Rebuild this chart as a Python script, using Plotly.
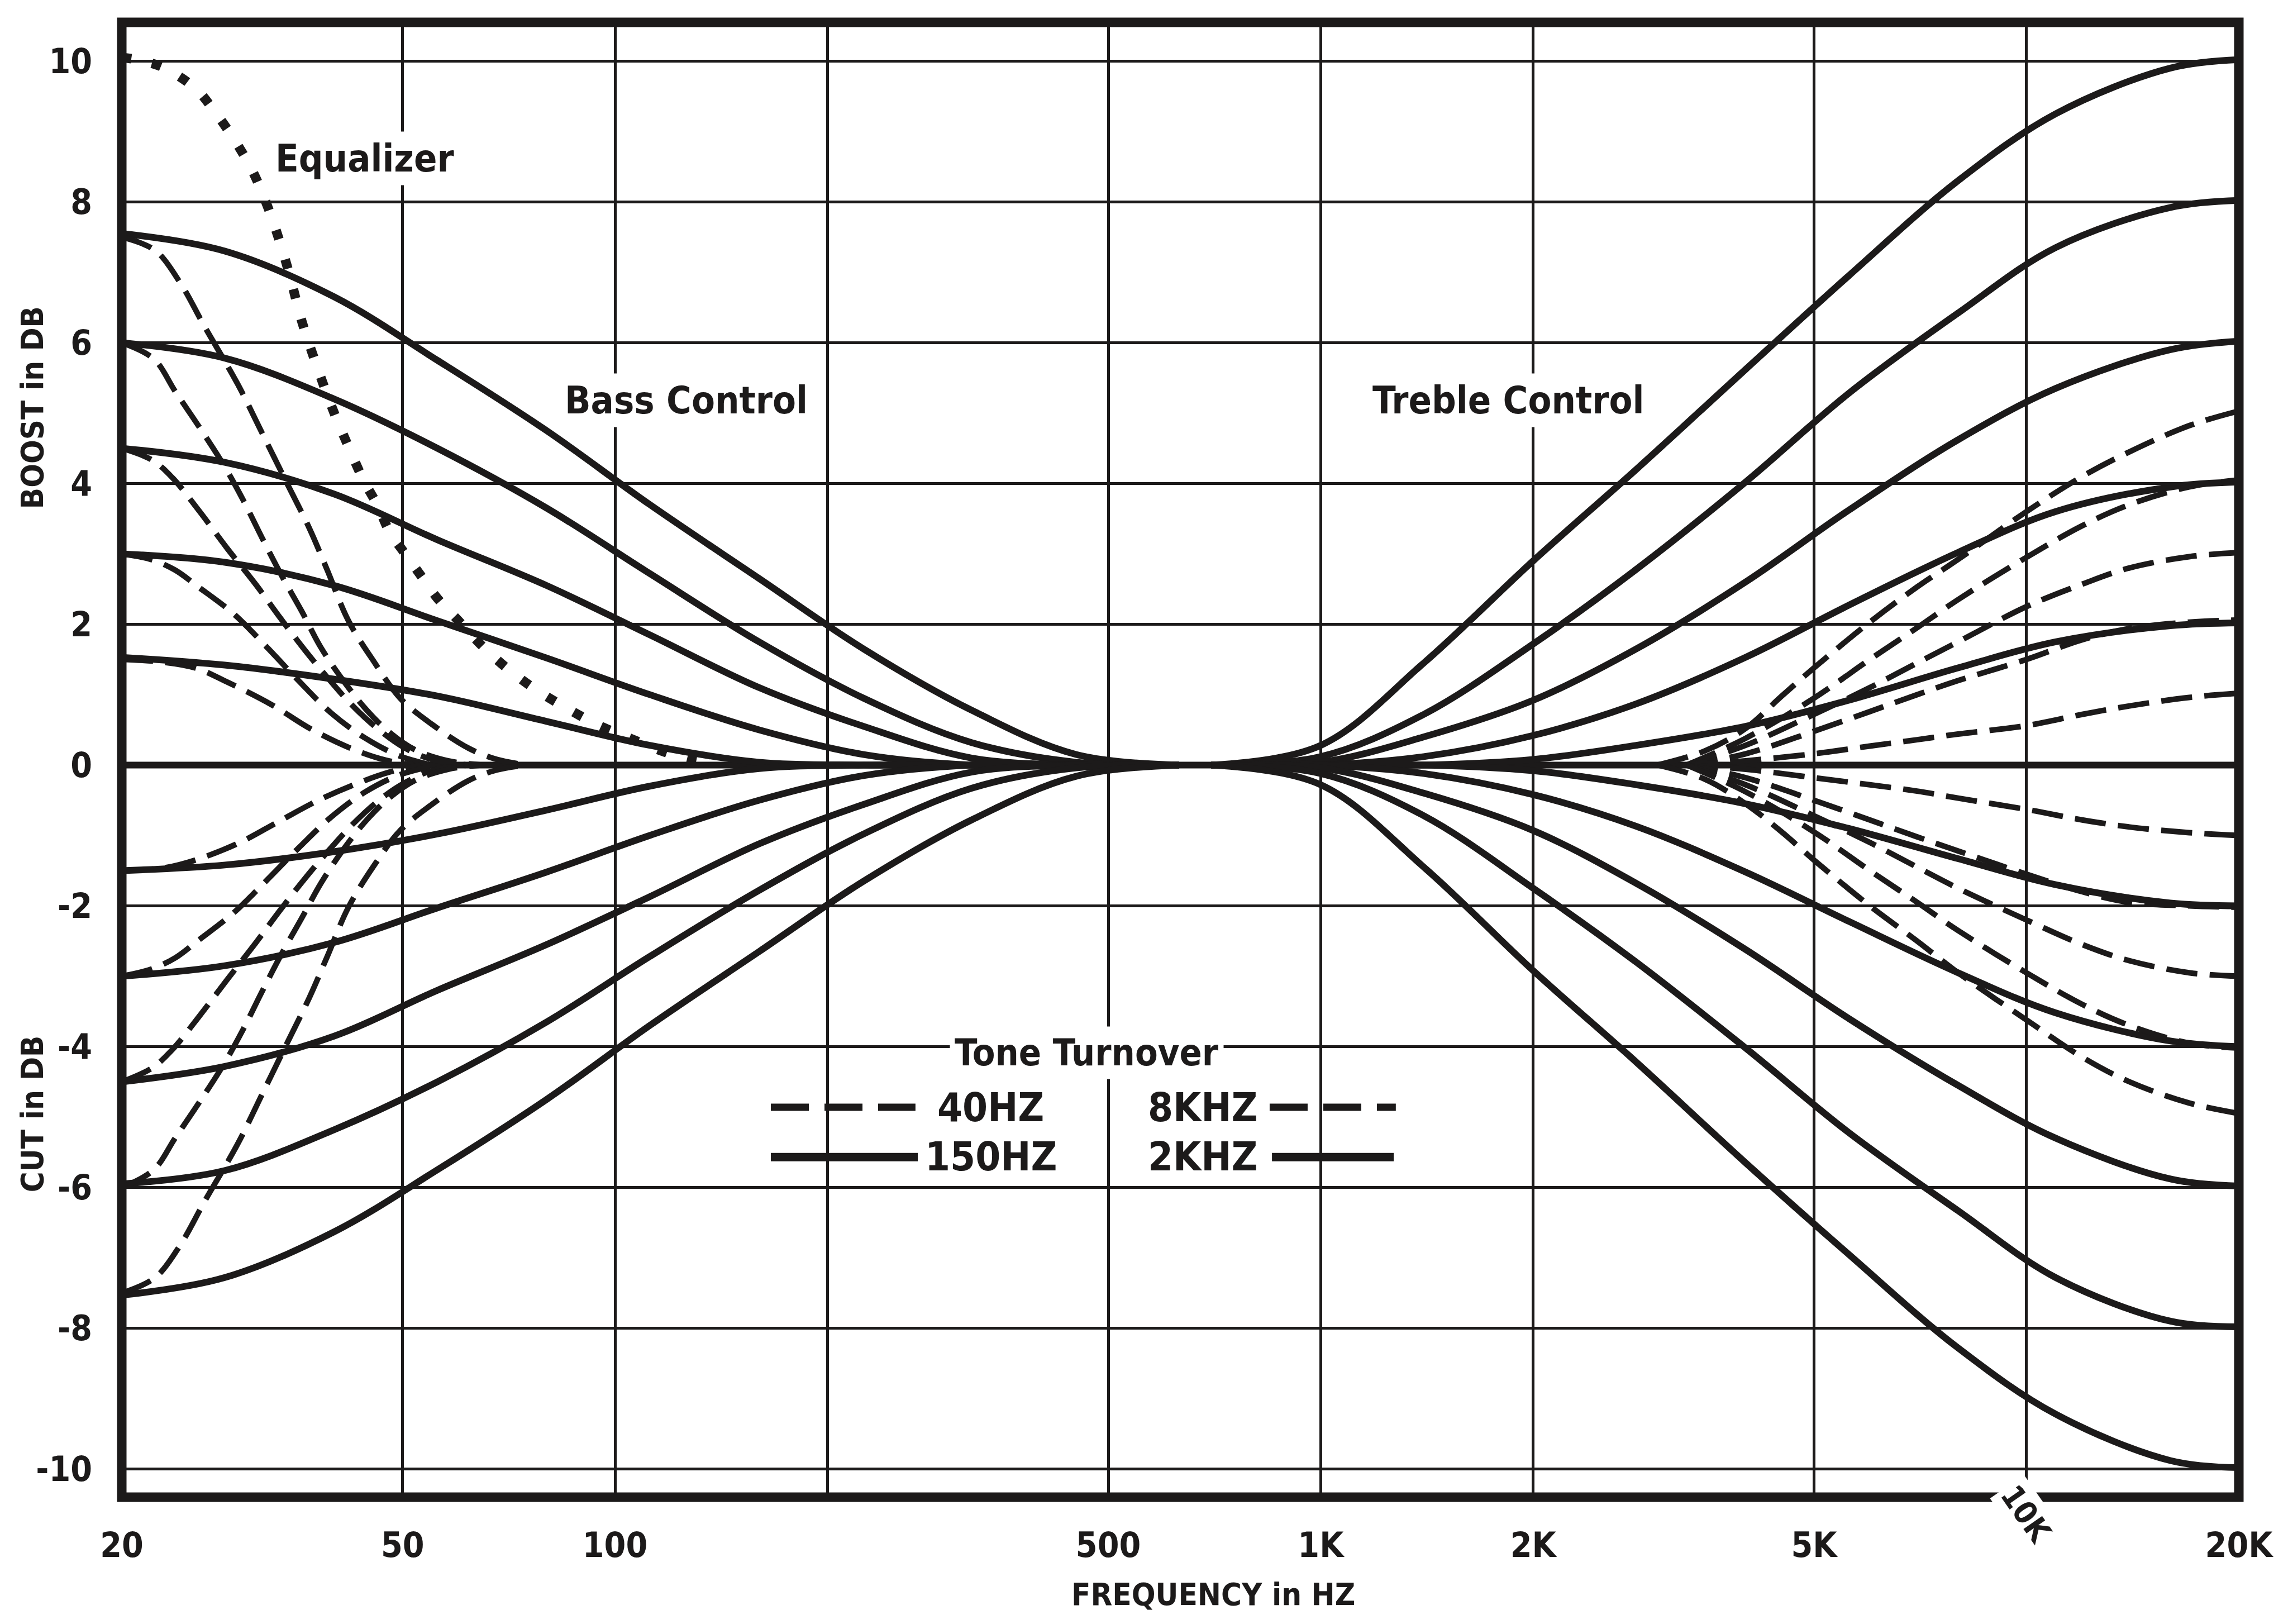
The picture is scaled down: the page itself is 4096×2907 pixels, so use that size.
import math
import plotly.graph_objects as go

# ---------------- data ----------------
# Bass control, 150 Hz turnover (solid)
bass150_freq = [20, 28, 40, 56, 80, 112, 160, 225, 320, 450, 630]
bass150_p75 = [7.55, 7.30, 6.65, 5.75, 4.75, 3.70, 2.65, 1.65, 0.78, 0.15, 0.0]
bass150_p60 = [6.00, 5.78, 5.20, 4.50, 3.65, 2.72, 1.75, 0.95, 0.32, 0.04, 0.0]
bass150_p45 = [4.50, 4.30, 3.85, 3.20, 2.55, 1.85, 1.10, 0.55, 0.10, 0.0, 0.0]
bass150_p30 = [3.00, 2.88, 2.55, 2.05, 1.52, 1.00, 0.50, 0.15, 0.0, 0.0, 0.0]
bass150_p15 = [1.53, 1.42, 1.22, 0.98, 0.62, 0.28, 0.04, 0.0, 0.0, 0.0, 0.0]
bass150_m15 = [-1.50, -1.42, -1.23, -0.98, -0.64, -0.30, -0.05, 0.0, 0.0, 0.0, 0.0]
bass150_m30 = [-3.00, -2.85, -2.52, -2.03, -1.52, -1.00, -0.50, -0.15, 0.0, 0.0, 0.0]
bass150_m45 = [-4.50, -4.28, -3.85, -3.20, -2.55, -1.87, -1.12, -0.56, -0.10, 0.0, 0.0]
bass150_m60 = [-5.95, -5.76, -5.18, -4.50, -3.65, -2.72, -1.78, -0.98, -0.33, -0.04, 0.0]
bass150_m75 = [-7.53, -7.28, -6.63, -5.75, -4.75, -3.70, -2.65, -1.65, -0.78, -0.16, 0.0]

# Bass control, 40 Hz turnover (dashed)
bass40_p75_freq = [20, 22.3, 24.2, 26.2, 29.2, 31.6, 34.3, 36.9, 39.1, 41.9, 45.6, 49.6, 55, 62, 68, 75]
bass40_p75 = [7.5, 7.31, 6.85, 6.23, 5.41, 4.72, 4.0, 3.36, 2.77, 2.05, 1.46, 0.95, 0.58, 0.24, 0.08, 0.0]
bass40_p60_freq = [20, 22.2, 23.8, 25.8, 27.9, 29.7, 31.6, 33.7, 36, 38.3, 41.2, 44.3, 47.7, 52, 58, 65]
bass40_p60 = [6.0, 5.77, 5.31, 4.79, 4.26, 3.77, 3.23, 2.69, 2.18, 1.67, 1.2, 0.8, 0.48, 0.22, 0.06, 0.0]
bass40_p45_freq = [20, 22.1, 23.6, 25.7, 28.2, 31, 33.6, 36.3, 39, 42.4, 46.3, 50.4, 55, 62]
bass40_p45 = [4.5, 4.33, 4.08, 3.62, 3.08, 2.56, 2.08, 1.64, 1.26, 0.85, 0.5, 0.24, 0.08, 0.0]
bass40_p30_freq = [20, 22, 23.8, 25.6, 28.8, 32, 35.6, 39.6, 44.3, 49.5, 55]
bass40_p30 = [3.0, 2.92, 2.77, 2.54, 2.15, 1.69, 1.2, 0.74, 0.38, 0.13, 0.0]
bass40_p15_freq = [20, 22.5, 25.4, 28.2, 32.7, 37.1, 42.4, 47.3, 52]
bass40_p15 = [1.5, 1.47, 1.38, 1.18, 0.85, 0.51, 0.23, 0.07, 0.0]
bass40_m15_freq = [20, 23, 25.6, 29.4, 33.4, 38, 42.9, 47.9, 53]
bass40_m15 = [-1.5, -1.46, -1.34, -1.1, -0.8, -0.5, -0.27, -0.1, 0.0]
bass40_m30_freq = [20, 22, 23.8, 25.6, 28.8, 32, 35.6, 39.6, 44.3, 49.5, 56]
bass40_m30 = [-3.0, -2.9, -2.74, -2.5, -2.1, -1.65, -1.18, -0.74, -0.38, -0.14, 0.0]
bass40_m45_freq = [20, 22.1, 23.6, 25.7, 28.2, 31, 33.6, 36.3, 39, 42.4, 46.3, 50.4, 55, 62]
bass40_m45 = [-4.5, -4.3, -4.04, -3.58, -3.05, -2.52, -2.05, -1.62, -1.25, -0.85, -0.5, -0.25, -0.08, 0.0]
bass40_m60_freq = [20, 22.2, 23.8, 25.8, 27.9, 29.7, 31.6, 33.7, 36, 38.3, 41.2, 44.3, 47.7, 52, 58, 65]
bass40_m60 = [-6.0, -5.75, -5.3, -4.78, -4.25, -3.76, -3.22, -2.68, -2.17, -1.68, -1.2, -0.8, -0.48, -0.22, -0.06, 0.0]
bass40_m75_freq = [20, 22.3, 24.2, 26.2, 29.2, 31.6, 34.3, 36.9, 39.1, 41.9, 45.6, 49.6, 55, 62, 68, 75]
bass40_m75 = [-7.5, -7.28, -6.82, -6.2, -5.38, -4.68, -3.95, -3.3, -2.72, -2.02, -1.42, -0.93, -0.56, -0.22, -0.07, 0.0]

# Equalizer (dotted)
eq_freq = [20, 21, 23, 25.5, 27, 28.8, 30.6, 32, 33.2, 34.5, 36, 38, 40, 42, 44, 46, 48, 50, 53,
           56, 60, 65, 70, 77, 85, 95, 105, 115, 125, 135]
eq_db = [10.05, 10.02, 9.9, 9.6, 9.3, 8.9, 8.45, 8.0, 7.55, 7.0, 6.3, 5.6, 5.0, 4.5, 4.05, 3.7, 3.3,
         3.05, 2.7, 2.37, 2.05, 1.68, 1.39, 1.08, 0.82, 0.56, 0.38, 0.22, 0.1, 0.03]

# Treble control, 2 kHz turnover (solid)
treble2k_freq = [700, 1000, 1400, 2000, 2800, 4000, 5600, 8000, 11000, 16000, 20000]
treble2k_p10 = [0.0, 0.28, 1.45, 2.90, 4.20, 5.62, 6.95, 8.30, 9.25, 9.90, 10.02]
treble2k_p8 = [0.0, 0.12, 0.72, 1.72, 2.78, 4.02, 5.28, 6.42, 7.35, 7.92, 8.02]
treble2k_p6 = [0.0, 0.04, 0.40, 0.92, 1.65, 2.60, 3.62, 4.62, 5.35, 5.90, 6.02]
treble2k_p4 = [0.0, 0.0, 0.12, 0.42, 0.87, 1.53, 2.27, 3.02, 3.60, 3.95, 4.02]
treble2k_p2 = [0.0, 0.0, 0.0, 0.08, 0.28, 0.55, 0.92, 1.38, 1.75, 1.98, 2.02]
treble2k_m2 = [0.0, 0.0, 0.0, -0.08, -0.28, -0.55, -0.90, -1.33, -1.70, -1.96, -2.00]
treble2k_m4 = [0.0, 0.0, -0.12, -0.42, -0.87, -1.52, -2.22, -2.95, -3.52, -3.92, -4.00]
treble2k_m6 = [0.0, -0.04, -0.40, -0.93, -1.68, -2.62, -3.60, -4.55, -5.30, -5.88, -5.98]
treble2k_m8 = [0.0, -0.12, -0.72, -1.75, -2.80, -4.02, -5.22, -6.33, -7.28, -7.90, -7.98]
treble2k_m10 = [0.0, -0.28, -1.45, -2.92, -4.22, -5.65, -6.95, -8.28, -9.22, -9.88, -9.98]

# Treble control, 8 kHz turnover (dashed)
treble8k_pm5_freq = [3000, 3500, 4000, 4500, 5000, 6000, 7000, 8000, 10000, 12000, 14000, 17000, 20000]
treble8k_p5 = [0.0, 0.2, 0.52, 0.98, 1.38, 2.03, 2.53, 2.92, 3.6, 4.1, 4.45, 4.82, 5.03]
treble8k_m5 = [0.0, -0.2, -0.55, -0.95, -1.35, -2.0, -2.5, -2.95, -3.62, -4.15, -4.5, -4.8, -4.95]
treble8k_freq = [3300, 4000, 5000, 6000, 7000, 8000, 10000, 12000, 14000, 17000, 20000]
treble8k_p4 = [0.0, 0.38, 0.95, 1.5, 1.95, 2.35, 2.95, 3.4, 3.7, 3.95, 4.05]
treble8k_p3 = [0.0, 0.28, 0.72, 1.1, 1.45, 1.75, 2.25, 2.57, 2.8, 2.96, 3.02]
treble8k_p2 = [0.0, 0.16, 0.48, 0.76, 1.0, 1.2, 1.5, 1.78, 1.94, 2.03, 2.06]
treble8k_p1 = [0.0, 0.06, 0.16, 0.27, 0.36, 0.44, 0.56, 0.72, 0.84, 0.96, 1.02]
treble8k_m1 = [0.0, -0.06, -0.18, -0.28, -0.37, -0.47, -0.63, -0.78, -0.88, -0.96, -1.0]
treble8k_m2 = [0.0, -0.18, -0.5, -0.78, -1.02, -1.22, -1.55, -1.8, -1.95, -2.0, -2.02]
treble8k_m3 = [0.0, -0.28, -0.72, -1.1, -1.45, -1.75, -2.2, -2.55, -2.78, -2.95, -3.0]
treble8k_m4 = [0.0, -0.38, -0.95, -1.5, -1.95, -2.35, -2.95, -3.4, -3.7, -3.95, -4.02]

# flat setting
flat_freq = [20, 20000]
flat_db = [0, 0]

# axes
x_tickvals = [20, 50, 100, 200, 500, 1000, 2000, 5000, 10000, 20000]
x_ticktext = ["20", "50", "100", "", "500", "1K", "2K", "5K", "", "20K"]
y_tickvals = [10, 8, 6, 4, 2, 0, -2, -4, -6, -8, -10]
y_ticktext = ["10", "8", "6", "4", "2", "0", "-2", "-4", "-6", "-8", "-10"]

# ---------------- styling ----------------
INK = "#1c1a1a"
FONT = "DejaVu Sans Condensed, DejaVu Sans, sans-serif"
W, H = 4096, 2907
L, R, T, B = 218, 88, 40, 227

fig = go.Figure()


def add(freq, vals, kind):
    if kind == "solid":
        line = dict(color=INK, width=12, shape="spline", smoothing=1.0)
    elif kind == "dash":
        line = dict(color=INK, width=10, dash="56px,22px", shape="spline", smoothing=1.0)
    else:
        line = dict(color=INK, width=17, dash="17px,38px", shape="spline", smoothing=1.0)
    fig.add_trace(go.Scatter(x=freq, y=vals, mode="lines", line=line,
                             hoverinfo="skip", showlegend=False))


add(flat_freq, flat_db, "solid")
for v in [bass150_p75, bass150_p60, bass150_p45, bass150_p30, bass150_p15,
          bass150_m15, bass150_m30, bass150_m45, bass150_m60, bass150_m75]:
    add(bass150_freq, v, "solid")
for f, v in [(bass40_p75_freq, bass40_p75), (bass40_p60_freq, bass40_p60),
             (bass40_p45_freq, bass40_p45), (bass40_p30_freq, bass40_p30),
             (bass40_p15_freq, bass40_p15), (bass40_m15_freq, bass40_m15),
             (bass40_m30_freq, bass40_m30), (bass40_m45_freq, bass40_m45),
             (bass40_m60_freq, bass40_m60), (bass40_m75_freq, bass40_m75)]:
    add(f, v, "dash")
for v in [treble2k_p10, treble2k_p8, treble2k_p6, treble2k_p4, treble2k_p2,
          treble2k_m2, treble2k_m4, treble2k_m6, treble2k_m8, treble2k_m10]:
    add(treble2k_freq, v, "solid")
add(treble8k_pm5_freq, treble8k_p5, "dash")
add(treble8k_pm5_freq, treble8k_m5, "dash")
for v in [treble8k_p4, treble8k_p3, treble8k_p2, treble8k_p1,
          treble8k_m1, treble8k_m2, treble8k_m3, treble8k_m4]:
    add(treble8k_freq, v, "dash")
add(eq_freq, eq_db, "dot")

axis_font = dict(family=FONT, size=62, color=INK, weight="bold")
fig.update_layout(
    width=W, height=H,
    margin=dict(l=L, r=R, t=T, b=B, pad=0),
    paper_bgcolor="white", plot_bgcolor="white",
    showlegend=False,
    xaxis=dict(type="log", range=[math.log10(20), math.log10(20000)],
               tickmode="array", tickvals=x_tickvals, ticktext=x_ticktext,
               showgrid=True, gridcolor=INK, gridwidth=5, zeroline=False,
               showline=False, ticks="", tickfont=axis_font,
               ticklabelstandoff=44, fixedrange=True),
    yaxis=dict(range=[-10.40, 10.55], tickmode="array",
               tickvals=y_tickvals, ticktext=y_ticktext,
               showgrid=True, gridcolor=INK, gridwidth=5, zeroline=False,
               showline=False, ticks="", tickfont=axis_font,
               ticklabelstandoff=52, fixedrange=True),
)

# frame
fig.add_shape(type="rect", xref="paper", yref="paper", x0=0, x1=1, y0=0, y1=1,
              line=dict(color=INK, width=17), layer="above")

# legend keys
fig.add_shape(type="line", xref="paper", yref="y", x0=0.3066, x1=0.3749, y0=-4.86, y1=-4.86,
              line=dict(color=INK, width=13, dash="68px,28px"), layer="above")
fig.add_shape(type="line", xref="paper", yref="y", x0=0.3066, x1=0.3760, y0=-5.57, y1=-5.57,
              line=dict(color=INK, width=15), layer="above")
fig.add_shape(type="line", xref="paper", yref="y", x0=0.5422, x1=0.6018, y0=-4.86, y1=-4.86,
              line=dict(color=INK, width=13, dash="68px,28px"), layer="above")
fig.add_shape(type="line", xref="paper", yref="y", x0=0.5433, x1=0.6008, y0=-5.57, y1=-5.57,
              line=dict(color=INK, width=15), layer="above")


def note(text, x, y, size=68, yref="y", angle=0, bg="white", pad=8):
    fig.add_annotation(text=text, x=x, y=y, xref="paper", yref=yref,
                       showarrow=False, textangle=angle,
                       font=dict(family=FONT, size=size, color=INK, weight="bold"),
                       bgcolor=bg, borderpad=pad, xanchor="center", yanchor="middle")


note("Equalizer", 0.1148, 8.62)
note("Bass Control", 0.2665, 5.18)
note("Treble Control", 0.6549, 5.18)
note("Tone Turnover", 0.4557, -4.09, size=66)
note("40HZ", 0.4103, -4.86, size=72, pad=2)
note("150HZ", 0.4106, -5.56, size=72, pad=2)
note("8KHZ", 0.5106, -4.86, size=72, pad=2)
note("2KHZ", 0.5106, -5.56, size=72, pad=2)
note("BOOST in DB", -0.0425, 5.08, size=56, angle=-90, bg="rgba(0,0,0,0)", pad=0)
note("CUT in DB", -0.0425, -4.95, size=56, angle=-90, bg="rgba(0,0,0,0)", pad=0)
note("FREQUENCY in HZ", 0.5156, -0.0659, size=56, yref="paper", bg="rgba(0,0,0,0)", pad=0)
note("10K", (math.log10(10000) - math.log10(20)) / 3, -0.0114, size=56, yref="paper",
     angle=55, pad=4)

fig.write_html("out.html")
